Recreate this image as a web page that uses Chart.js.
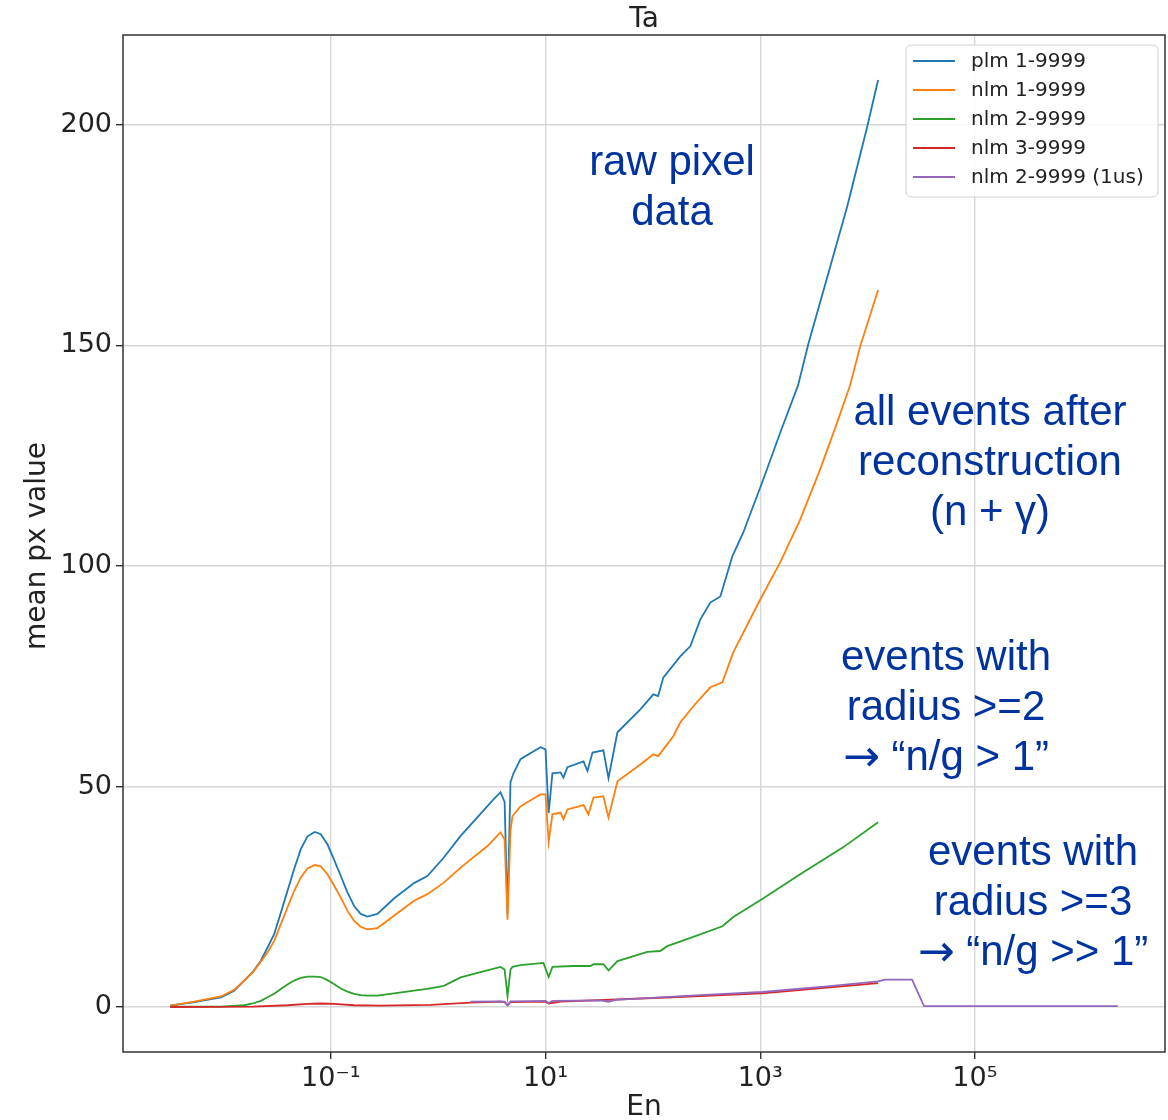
<!DOCTYPE html>
<html>
<head>
<meta charset="utf-8">
<script src="https://cdn.jsdelivr.net/npm/chart.js@4.4.0/dist/chart.umd.min.js"></script>
<style>
html,body{margin:0;padding:0;background:#fff;}
#wrap{width:1168px;height:1120px;position:relative;}
</style>
</head>
<body>
<div id="wrap"><canvas id="c" width="1168" height="1120"></canvas></div>
<script>
// ---------- data (energies in eV, values = mean px value) ----------
const seriesLabels = ['plm 1-9999', 'nlm 1-9999', 'nlm 2-9999', 'nlm 3-9999', 'nlm 2-9999 (1us)'];
const seriesColors = ['#1f77b4', '#ff7f0e', '#2ca02c', '#d62728', '#9467bd'];

const plmE = [3.20e-3,5.35e-3,9.48e-3,0.0126,0.0156,0.0187,0.0223,0.0258,0.0297,0.0343,0.0395,0.0456,0.0526,0.0607,0.0710,0.0807,0.0931,0.107,0.124,0.143,0.165,0.190,0.219,0.272,0.388,0.596,0.794,1.13,1.62,
  3.28,3.81,4.16,4.43,4.72,5.04,5.85,8.97,10.0,10.7,11.6,13.8,14.7,16.0,22.6,24.6,27.4,34.6,38.6,46.8,76.5,101,112,125,180,223,277,343,425,550,695,1067,1535,2254,2797,4478,6440,9890,12530];
const plmV = [0.3,1.1,2.2,3.7,6.0,7.9,10.5,13.5,16.5,21.4,26.3,31.3,35.8,38.7,39.7,39.2,36.9,33.5,29.7,26.0,22.9,21.1,20.5,21.1,24.6,28.1,29.7,33.9,38.8,
  47.1,48.7,46.5,21,51,53,56.2,58.9,58.4,44,53,53.2,52,54.4,55.7,53.5,57.7,58.2,51.9,62.3,67.5,70.9,70.5,74.7,79.5,81.8,87.9,91.7,93.1,102.2,107.6,119.6,130.2,141,150.2,167.8,181.4,199.5,210.2];

const nlm1E = [3.20e-3,5.35e-3,9.48e-3,0.0126,0.0156,0.0187,0.0223,0.0258,0.0297,0.0343,0.0395,0.0456,0.0526,0.0607,0.0710,0.0807,0.0931,0.107,0.124,0.143,0.165,0.190,0.219,0.272,0.388,0.596,0.794,1.13,1.62,
  2.88,3.81,4.16,4.43,4.72,4.93,5.85,8.97,10.0,10.7,11.6,13.8,14.7,16.0,22.6,25.1,28.0,34.6,38.6,46.8,76.5,101,112,155,180,238,343,444,561,1000,1535,2355,3616,5200,6873,8513,12530];
const nlm1V = [0.3,1.2,2.4,3.9,6.0,7.8,10.3,12.4,15.0,18.8,22.6,26.3,29.4,31.4,32.2,31.9,30.1,27.6,24.8,21.8,19.5,18.2,17.6,17.9,20.7,24.1,25.6,28.2,31.6,
  36.5,39.6,38.0,19.8,40,43.3,45.5,48.2,48.2,37.4,43.7,44.1,42.6,44.8,45.8,43.7,47.5,47.8,43.0,51.2,55.0,57.3,56.9,61.4,64.5,68.2,72.5,73.6,80.4,92.4,100.8,110.5,121.9,132.5,141,149.7,162.6];

const nlm2E = [3.20e-3,9.48e-3,0.0156,0.0187,0.0223,0.0258,0.0297,0.0343,0.0395,0.0456,0.0526,0.0607,0.0710,0.0807,0.0931,0.107,0.124,0.143,0.165,0.190,0.219,0.272,0.388,0.596,0.794,1.13,1.62,
  2.48,3.81,4.16,4.43,4.72,4.93,5.85,9.57,10.7,11.6,18.2,26.2,28.0,34.6,38.6,46.8,88.9,117,136,238,444,561,1044,2355,5913,12530];
const nlm2V = [0.1,0.1,0.4,0.8,1.4,2.2,3.0,4.1,5.1,6.0,6.6,6.9,6.9,6.8,6.1,5.2,4.2,3.5,3.0,2.7,2.6,2.6,3.1,3.7,4.1,4.8,6.7,
  7.9,9.1,8.5,2.5,8.5,9.1,9.5,10.0,6.8,9.1,9.3,9.3,9.7,9.7,8.3,10.4,12.5,12.7,13.8,15.9,18.3,20.4,24.5,30.1,36.2,41.9];

const nlm3E = [3.20e-3,0.0187,0.0395,0.0607,0.0807,0.107,0.165,0.292,0.851,2.00,3.81,4.16,4.43,4.72,10.0,10.7,13.8,117,277,1044,4200,12530];
const nlm3V = [0.0,0.1,0.4,0.7,0.8,0.7,0.4,0.3,0.5,1.0,1.2,1.1,0.4,1.1,1.2,0.8,1.2,2.1,2.5,3.1,4.4,5.4];

const nlm2usE = [2.00,3.81,4.16,4.43,4.72,10.0,10.7,11.6,32.5,38.6,44.8,117,277,1044,4200,12530,14560,25950,33560,2.14e6];
const nlm2usV = [1.2,1.3,1.2,0.4,1.3,1.4,0.9,1.4,1.5,1.2,1.6,2.2,2.7,3.4,4.7,5.8,6.2,6.2,0.2,0.2];

const xTickValues = [0.1, 10, 1000, 100000];
const xTickLabels = ['10\u207B\u00B9', '10\u00B9', '10\u00B3', '10\u2075'];
const yTickValues = [0, 50, 100, 150, 200];
const yTickLabels = ['0', '50', '100', '150', '200'];

const chartTitle = 'Ta';
const xTitle = 'En';
const yTitle = 'mean px value';

const ARROW = '\u2192';
const notes = [
  {lines: ['raw pixel', 'data'], x: 672, y: 163},
  {lines: ['all events after', 'reconstruction', '(n + \u03B3)'], x: 990, y: 413},
  {lines: ['events with', 'radius >=2', ARROW + ' \u201Cn/g > 1\u201D'], x: 946, y: 658},
  {lines: ['events with', 'radius >=3', ARROW + ' \u201Cn/g >> 1\u201D'], x: 1033, y: 853}
];

// ---------- build ----------
const pts = (E, V) => E.map((e, i) => ({x: e, y: V[i]}));
const seriesData = [pts(plmE, plmV), pts(nlm1E, nlm1V), pts(nlm2E, nlm2V), pts(nlm3E, nlm3V), pts(nlm2usE, nlm2usV)];

const datasets = seriesData.map((d, i) => ({
  label: seriesLabels[i],
  data: d,
  borderColor: seriesColors[i],
  backgroundColor: seriesColors[i],
  borderWidth: 1.8,
  pointRadius: 0,
  tension: 0,
  fill: false,
  order: 5 - i
}));

const TXT = '#222222';
const NOTE_FONT = '42px "Liberation Sans"';
const ARROW_FONT = '44px "DejaVu Sans"';
const decor = {
  id: 'decor',
  beforeDraw(chart) {
    const ctx = chart.ctx;
    ctx.save();
    ctx.fillStyle = '#ffffff';
    ctx.fillRect(0, 0, chart.width, chart.height);
    ctx.restore();
  },
  afterDraw(chart) {
    const ctx = chart.ctx;
    const a = chart.chartArea;
    ctx.save();
    // frame
    ctx.strokeStyle = '#333333';
    ctx.lineWidth = 1.5;
    ctx.strokeRect(a.left, a.top, a.right - a.left, a.bottom - a.top);
    // title
    ctx.fillStyle = TXT;
    ctx.font = '28px "DejaVu Sans"';
    ctx.textAlign = 'center';
    ctx.textBaseline = 'middle';
    ctx.fillText(chartTitle, (a.left + a.right) / 2, 20);
    // x title
    ctx.fillText(xTitle, (a.left + a.right) / 2, 1108);
    // y title
    ctx.save();
    ctx.translate(38, 546);
    ctx.rotate(-Math.PI / 2);
    ctx.fillText(yTitle, 0, 0);
    ctx.restore();
    // legend
    const bx = 906, by = 45, bw = 252, bh = 152, r = 6;
    ctx.beginPath();
    ctx.moveTo(bx + r, by);
    ctx.lineTo(bx + bw - r, by);
    ctx.quadraticCurveTo(bx + bw, by, bx + bw, by + r);
    ctx.lineTo(bx + bw, by + bh - r);
    ctx.quadraticCurveTo(bx + bw, by + bh, bx + bw - r, by + bh);
    ctx.lineTo(bx + r, by + bh);
    ctx.quadraticCurveTo(bx, by + bh, bx, by + bh - r);
    ctx.lineTo(bx, by + r);
    ctx.quadraticCurveTo(bx, by, bx + r, by);
    ctx.closePath();
    ctx.fillStyle = 'rgba(255,255,255,0.85)';
    ctx.fill();
    ctx.strokeStyle = '#d0d0d0';
    ctx.lineWidth = 1;
    ctx.stroke();
    ctx.font = '20px "DejaVu Sans"';
    ctx.textAlign = 'left';
    ctx.textBaseline = 'middle';
    seriesLabels.forEach((lab, i) => {
      const y = 61 + i * 29;
      ctx.strokeStyle = seriesColors[i];
      ctx.lineWidth = 2;
      ctx.beginPath();
      ctx.moveTo(913, y);
      ctx.lineTo(955, y);
      ctx.stroke();
      ctx.fillStyle = TXT;
      ctx.fillText(lab, 971, y + 1);
    });
    // annotations
    ctx.fillStyle = '#0033a0';
    ctx.textBaseline = 'middle';
    notes.forEach(n => {
      n.lines.forEach((t, j) => {
        const y = n.y + j * 50;
        if (t.startsWith(ARROW)) {
          const rest = t.slice(1);
          ctx.font = ARROW_FONT;
          const wa = ctx.measureText(ARROW).width;
          ctx.font = NOTE_FONT;
          const wr = ctx.measureText(rest).width;
          const x0 = n.x - (wa + wr) / 2;
          ctx.textAlign = 'left';
          ctx.font = ARROW_FONT;
          ctx.fillText(ARROW, x0, y + 2);
          ctx.font = NOTE_FONT;
          ctx.fillText(rest, x0 + wa, y);
        } else {
          ctx.font = NOTE_FONT;
          ctx.textAlign = 'center';
          ctx.fillText(t, n.x, y);
        }
      });
    });
    ctx.restore();
  }
};

new Chart(document.getElementById('c'), {
  type: 'line',
  data: {datasets},
  options: {
    responsive: false,
    animation: false,
    devicePixelRatio: 1,
    layout: {padding: {top: 35, right: 3, left: 0, bottom: 0}},
    plugins: {legend: {display: false}, tooltip: {enabled: false}, title: {display: false}},
    scales: {
      x: {
        type: 'logarithmic',
        min: 1.161e-3,
        max: 5.89e6,
        afterFit(s) { s.height = 68; },
        afterBuildTicks(s) { s.ticks = xTickValues.map(v => ({value: v})); },
        ticks: {
          autoSkip: false, maxRotation: 0, minRotation: 0, padding: 4,
          color: TXT, font: {family: 'DejaVu Sans', size: 27},
          callback(v) { const k = xTickValues.indexOf(v); return k >= 0 ? xTickLabels[k] : ''; }
        },
        grid: {color: '#d6d6d6', lineWidth: 1.4, tickColor: '#333333', tickLength: 7, tickWidth: 1.4},
        border: {display: false}
      },
      y: {
        type: 'linear',
        min: -10.2,
        max: 220.4,
        afterFit(s) { s.width = 123; },
        afterBuildTicks(s) { s.ticks = yTickValues.map(v => ({value: v})); },
        ticks: {
          autoSkip: false, padding: 4,
          color: TXT, font: {family: 'DejaVu Sans', size: 27},
          callback(v) { const k = yTickValues.indexOf(v); return k >= 0 ? yTickLabels[k] : ''; }
        },
        grid: {color: '#d6d6d6', lineWidth: 1.4, tickColor: '#333333', tickLength: 7, tickWidth: 1.4},
        border: {display: false}
      }
    }
  },
  plugins: [decor]
});
</script>
</body>
</html>
